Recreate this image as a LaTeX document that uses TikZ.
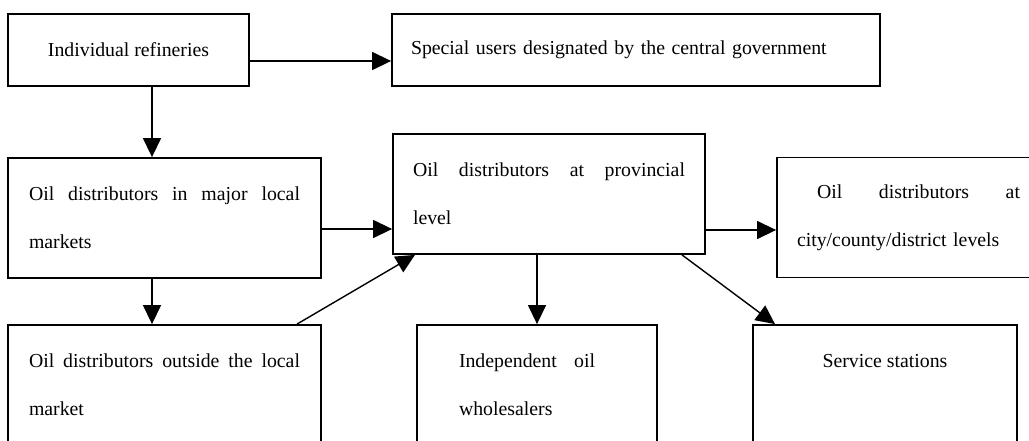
\documentclass[tikz,border=0pt]{standalone}
\usepackage{fontspec}
\setmainfont{Liberation Serif}
\usetikzlibrary{arrows.meta}
\newcommand{\spreadline}[2]{\hbox to #1{\spaceskip=0.25em plus 1fil\relax #2}}

\begin{document}
\begin{tikzpicture}[
  x=1pt, y=-1pt,
  bx/.style={draw, line width=1.8pt, font=\fontsize{19.8}{48}\selectfont,
             inner ysep=0pt, minimum height=120pt},
  arr/.style={-{Triangle[length=19pt, width=18pt]}, line width=1.4pt}
]
\clip (0,0) rectangle (1029,441);

% top row
\node[bx, minimum width=241pt, minimum height=72pt] (refin) at (128.5,50) {Individual refineries};
\node[bx, minimum height=72pt, text width=450pt, inner xsep=19pt, align=left] (special) at (636,50)
  {Special users designated by the central government};

% middle row
\node[bx, text width=271pt, inner xsep=21pt, align=left] (major) at (164.5,218)
  {\spreadline{271pt}{Oil distributors in major local}\\ markets};
\node[bx, text width=272pt, inner xsep=20pt, align=left] (prov) at (549,194)
  {\spreadline{272pt}{Oil distributors at provincial}\\ level};
\node[bx, text width=223pt, inner xsep=20pt, align=left] (city) at (908.5,217.5)
  {\spreadline{223pt}{\hspace*{20pt}Oil distributors at}\\ city/county/district levels};

% bottom row
\node[bx, text width=271pt, inner xsep=21pt, align=left] (outside) at (164.5,385)
  {\spreadline{271pt}{Oil distributors outside the local}\\ market};
\node[bx, text width=156pt, inner xsep=42pt, align=left] (indep) at (537,385)
  {\spreadline{136pt}{Independent oil}\\ wholesalers};
\node[bx, minimum width=264pt, align=center] (service) at (885,385) {Service stations\\ \mbox{}};

\draw[arr] ([yshift=-11pt]refin.east) -- ([yshift=-11pt]special.west);
\draw[arr] ([xshift=23.5pt]refin.south) -- ([xshift=-12.5pt]major.north);
\draw[arr] ([xshift=-12.5pt]major.south) -- ([xshift=-12.5pt]outside.north);
\draw[arr] ([yshift=-11pt]major.east) -- ([yshift=-35pt]prov.west);
\draw[arr] ([xshift=132.5pt]outside.north) -- ([xshift=-134pt]prov.south);
\draw[arr] ([xshift=-12pt]prov.south) -- (indep.north);
\draw[arr] ([yshift=-36pt]prov.east) -- ([yshift=-12.5pt]city.west);
\draw[arr] ([xshift=133pt]prov.south) -- ([xshift=-110pt]service.north);
\end{tikzpicture}
\end{document}
